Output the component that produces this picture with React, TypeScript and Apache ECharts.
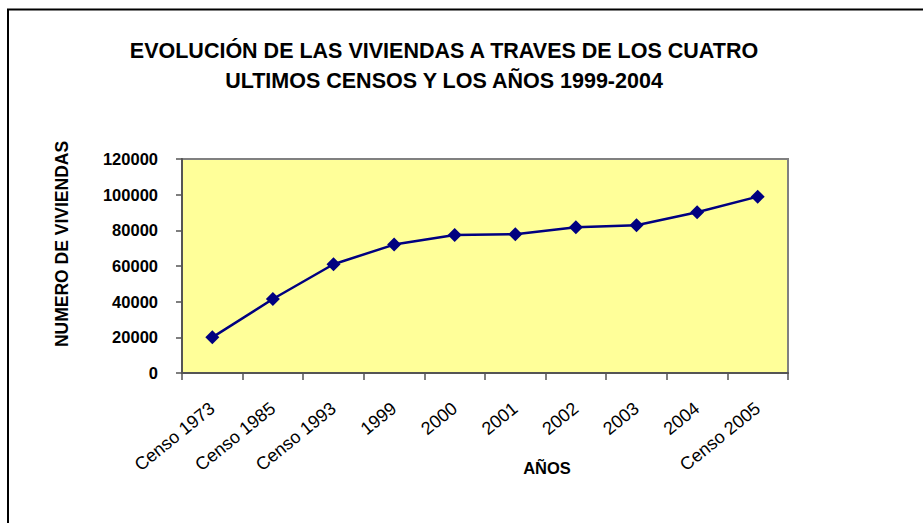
import React, { useEffect, useRef } from "react";
import * as echarts from "echarts";

const categories = ["Censo 1973", "Censo 1985", "Censo 1993", "1999", "2000", "2001", "2002", "2003", "2004", "Censo 2005"];
const viviendas = [20000, 41500, 61000, 72000, 77400, 77800, 81700, 82800, 90100, 98900];
const yTicks = [0, 20000, 40000, 60000, 80000, 100000, 120000];
const titleLines = ["EVOLUCIÓN DE LAS VIVIENDAS A TRAVES DE LOS CUATRO", "ULTIMOS CENSOS Y LOS AÑOS 1999-2004"];
const yName = "NUMERO DE VIVIENDAS";
const xName = "AÑOS";

const FONT = "'Liberation Sans', Arial, sans-serif";

export default function App() {
  const ref = useRef<HTMLDivElement>(null);
  useEffect(() => {
    if (!ref.current) return;
    const chart = echarts.init(ref.current, undefined, { renderer: "svg" });
    chart.setOption({
      animation: false,
      backgroundColor: "#ffffff",
      title: {
        text: titleLines.join("\n"),
        left: 439,
        top: 31,
        textAlign: "center",
        textStyle: {
          fontFamily: FONT,
          fontSize: 21.5,
          fontWeight: "bold",
          color: "#000",
          lineHeight: 30,
        },
      },
      grid: {
        left: 182,
        right: 135,
        top: 159,
        bottom: 150,
        show: true,
        backgroundColor: "#FFFF99",
        borderColor: "#808080",
        borderWidth: 2,
      },
      xAxis: {
        type: "category",
        data: categories,
        boundaryGap: true,
        axisLine: { show: true, lineStyle: { color: "#555", width: 2 } },
        axisTick: { show: true, length: 7, alignWithLabel: false, lineStyle: { color: "#555", width: 1.5 } },
        axisLabel: {
          rotate: 39,
          margin: 33,
          fontFamily: FONT,
          fontSize: 18,
          color: "#000",
          interval: 0,
        },
        splitLine: { show: false },
      },
      yAxis: {
        type: "value",
        min: 0,
        max: 120000,
        interval: 20000,
        axisLine: { show: true, lineStyle: { color: "#555", width: 2 } },
        axisTick: { show: true, length: 6, lineStyle: { color: "#555", width: 1.5 } },
        axisLabel: {
          margin: 24,
          fontFamily: FONT,
          fontSize: 16.5,
          fontWeight: "bold",
          color: "#000",
          formatter: (v: number) => (yTicks.includes(v) ? String(v) : ""),
        },
        splitLine: { show: false },
      },
      graphic: [
        {
          type: "rect",
          shape: { x: 8, y: 9.5, width: 1000, height: 700 },
          style: { fill: "none", stroke: "#000", lineWidth: 2 },
          silent: true,
        },
        {
          type: "text",
          x: 62,
          y: 244,
          rotation: Math.PI / 2,
          style: {
            text: yName,
            fontFamily: FONT,
            fontSize: 17.5,
            fontWeight: "bold",
            fill: "#000",
            align: "center",
            verticalAlign: "middle",
          },
        },
        {
          type: "text",
          x: 547,
          y: 468,
          style: {
            text: xName,
            fontFamily: FONT,
            fontSize: 16.5,
            fontWeight: "bold",
            fill: "#000",
            align: "center",
            verticalAlign: "middle",
          },
        },
      ],
      series: [
        {
          type: "line",
          data: viviendas,
          symbol: "diamond",
          symbolSize: 14,
          itemStyle: { color: "#000080" },
          lineStyle: { color: "#000080", width: 2.5 },
        },
      ],
    });
    return () => chart.dispose();
  }, []);
  return <div ref={ref} style={{ position: "fixed", left: 0, top: 0, width: 923, height: 523 }} />;
}
